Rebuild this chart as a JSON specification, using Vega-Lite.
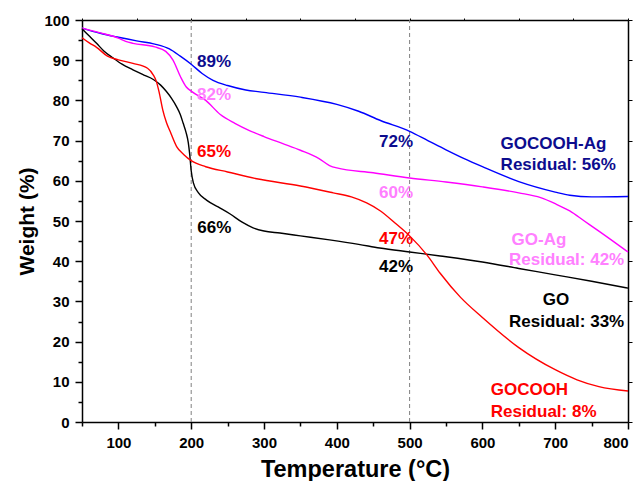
{
  "$schema": "https://vega.github.io/schema/vega-lite/v6.json",
  "width": 546,
  "height": 402,
  "autosize": {"type": "none"},
  "padding": {"left": 82, "top": 20, "right": 13, "bottom": 59},
  "config": {
    "font": "Liberation Sans",
    "view": {"stroke": null},
    "axis": {
      "grid": false,
      "domainColor": "#000000",
      "domainWidth": 1.5,
      "tickColor": "#000000",
      "tickWidth": 1.5,
      "labelFont": "Liberation Sans",
      "labelFontWeight": "bold",
      "labelFontSize": 15,
      "labelColor": "#000000",
      "titleFont": "Liberation Sans",
      "titleFontWeight": "bold",
      "titleColor": "#000000"
    }
  },
  "datasets": {
    "curves": [
      {"T": 50, "W": 98.0, "s": "GOCOOH-Ag"}, {"T": 75, "W": 96.7, "s": "GOCOOH-Ag"}, {"T": 100, "W": 95.7, "s": "GOCOOH-Ag"}, {"T": 125, "W": 94.8, "s": "GOCOOH-Ag"}, {"T": 150, "W": 94.0, "s": "GOCOOH-Ag"}, {"T": 170, "W": 92.8, "s": "GOCOOH-Ag"}, {"T": 185, "W": 91.0, "s": "GOCOOH-Ag"}, {"T": 200, "W": 89.0, "s": "GOCOOH-Ag"}, {"T": 215, "W": 86.7, "s": "GOCOOH-Ag"}, {"T": 230, "W": 85.0, "s": "GOCOOH-Ag"}, {"T": 250, "W": 83.7, "s": "GOCOOH-Ag"}, {"T": 275, "W": 82.6, "s": "GOCOOH-Ag"}, {"T": 300, "W": 82.0, "s": "GOCOOH-Ag"}, {"T": 350, "W": 80.8, "s": "GOCOOH-Ag"}, {"T": 400, "W": 79.0, "s": "GOCOOH-Ag"}, {"T": 430, "W": 77.3, "s": "GOCOOH-Ag"}, {"T": 460, "W": 75.0, "s": "GOCOOH-Ag"}, {"T": 500, "W": 72.3, "s": "GOCOOH-Ag"}, {"T": 525, "W": 70.0, "s": "GOCOOH-Ag"}, {"T": 550, "W": 67.7, "s": "GOCOOH-Ag"}, {"T": 575, "W": 65.5, "s": "GOCOOH-Ag"}, {"T": 600, "W": 63.5, "s": "GOCOOH-Ag"}, {"T": 650, "W": 59.8, "s": "GOCOOH-Ag"}, {"T": 700, "W": 57.2, "s": "GOCOOH-Ag"}, {"T": 720, "W": 56.4, "s": "GOCOOH-Ag"}, {"T": 750, "W": 56.0, "s": "GOCOOH-Ag"}, {"T": 800, "W": 56.1, "s": "GOCOOH-Ag"},

      {"T": 50, "W": 98.0, "s": "GO-Ag"}, {"T": 75, "W": 96.8, "s": "GO-Ag"}, {"T": 100, "W": 95.5, "s": "GO-Ag"}, {"T": 110, "W": 94.7, "s": "GO-Ag"}, {"T": 120, "W": 94.2, "s": "GO-Ag"}, {"T": 150, "W": 93.3, "s": "GO-Ag"}, {"T": 165, "W": 92.2, "s": "GO-Ag"}, {"T": 175, "W": 90.0, "s": "GO-Ag"}, {"T": 185, "W": 86.0, "s": "GO-Ag"}, {"T": 193, "W": 83.4, "s": "GO-Ag"}, {"T": 200, "W": 82.3, "s": "GO-Ag"}, {"T": 220, "W": 80.0, "s": "GO-Ag"}, {"T": 240, "W": 76.5, "s": "GO-Ag"}, {"T": 260, "W": 74.3, "s": "GO-Ag"}, {"T": 280, "W": 72.5, "s": "GO-Ag"}, {"T": 300, "W": 71.0, "s": "GO-Ag"}, {"T": 325, "W": 69.3, "s": "GO-Ag"}, {"T": 350, "W": 67.6, "s": "GO-Ag"}, {"T": 375, "W": 65.6, "s": "GO-Ag"}, {"T": 390, "W": 63.8, "s": "GO-Ag"}, {"T": 400, "W": 63.2, "s": "GO-Ag"}, {"T": 450, "W": 62.0, "s": "GO-Ag"}, {"T": 500, "W": 60.7, "s": "GO-Ag"}, {"T": 550, "W": 59.7, "s": "GO-Ag"}, {"T": 600, "W": 58.5, "s": "GO-Ag"}, {"T": 650, "W": 57.0, "s": "GO-Ag"}, {"T": 680, "W": 55.8, "s": "GO-Ag"}, {"T": 700, "W": 54.3, "s": "GO-Ag"}, {"T": 720, "W": 52.5, "s": "GO-Ag"}, {"T": 740, "W": 50.0, "s": "GO-Ag"}, {"T": 760, "W": 47.5, "s": "GO-Ag"}, {"T": 800, "W": 42.3, "s": "GO-Ag"},

      {"T": 50, "W": 97.8, "s": "GO"}, {"T": 60, "W": 96.0, "s": "GO"}, {"T": 70, "W": 94.2, "s": "GO"}, {"T": 80, "W": 92.3, "s": "GO"}, {"T": 93, "W": 90.5, "s": "GO"}, {"T": 105, "W": 89.0, "s": "GO"}, {"T": 120, "W": 87.6, "s": "GO"}, {"T": 135, "W": 86.3, "s": "GO"}, {"T": 148, "W": 85.2, "s": "GO"}, {"T": 158, "W": 83.8, "s": "GO"}, {"T": 166, "W": 82.2, "s": "GO"}, {"T": 173, "W": 80.5, "s": "GO"}, {"T": 180, "W": 78.4, "s": "GO"}, {"T": 185, "W": 76.5, "s": "GO"}, {"T": 189, "W": 74.3, "s": "GO"}, {"T": 193, "W": 72.0, "s": "GO"}, {"T": 196, "W": 69.5, "s": "GO"}, {"T": 198, "W": 66.5, "s": "GO"}, {"T": 200, "W": 62.5, "s": "GO"}, {"T": 203, "W": 59.5, "s": "GO"}, {"T": 210, "W": 57.0, "s": "GO"}, {"T": 221, "W": 55.2, "s": "GO"}, {"T": 237, "W": 53.5, "s": "GO"}, {"T": 253, "W": 51.8, "s": "GO"}, {"T": 270, "W": 49.7, "s": "GO"}, {"T": 285, "W": 48.3, "s": "GO"}, {"T": 300, "W": 47.5, "s": "GO"}, {"T": 322, "W": 47.0, "s": "GO"}, {"T": 350, "W": 46.3, "s": "GO"}, {"T": 390, "W": 45.3, "s": "GO"}, {"T": 430, "W": 44.2, "s": "GO"}, {"T": 459, "W": 43.3, "s": "GO"}, {"T": 500, "W": 42.3, "s": "GO"}, {"T": 542, "W": 41.3, "s": "GO"}, {"T": 600, "W": 39.8, "s": "GO"}, {"T": 650, "W": 38.2, "s": "GO"}, {"T": 700, "W": 36.6, "s": "GO"}, {"T": 750, "W": 35.0, "s": "GO"}, {"T": 800, "W": 33.3, "s": "GO"},

      {"T": 50, "W": 95.6, "s": "GOCOOH"}, {"T": 60, "W": 94.3, "s": "GOCOOH"}, {"T": 70, "W": 93.2, "s": "GOCOOH"}, {"T": 85, "W": 91.0, "s": "GOCOOH"}, {"T": 100, "W": 90.1, "s": "GOCOOH"}, {"T": 120, "W": 89.2, "s": "GOCOOH"}, {"T": 140, "W": 88.0, "s": "GOCOOH"}, {"T": 148, "W": 86.3, "s": "GOCOOH"}, {"T": 152, "W": 84.8, "s": "GOCOOH"}, {"T": 156, "W": 82.0, "s": "GOCOOH"}, {"T": 161, "W": 77.6, "s": "GOCOOH"}, {"T": 166, "W": 74.5, "s": "GOCOOH"}, {"T": 171, "W": 72.3, "s": "GOCOOH"}, {"T": 180, "W": 68.5, "s": "GOCOOH"}, {"T": 190, "W": 66.5, "s": "GOCOOH"}, {"T": 200, "W": 65.0, "s": "GOCOOH"}, {"T": 220, "W": 63.5, "s": "GOCOOH"}, {"T": 250, "W": 62.2, "s": "GOCOOH"}, {"T": 290, "W": 60.5, "s": "GOCOOH"}, {"T": 350, "W": 58.7, "s": "GOCOOH"}, {"T": 395, "W": 57.0, "s": "GOCOOH"}, {"T": 420, "W": 56.0, "s": "GOCOOH"}, {"T": 441, "W": 54.5, "s": "GOCOOH"}, {"T": 460, "W": 52.5, "s": "GOCOOH"}, {"T": 480, "W": 49.5, "s": "GOCOOH"}, {"T": 500, "W": 46.3, "s": "GOCOOH"}, {"T": 524, "W": 41.5, "s": "GOCOOH"}, {"T": 542, "W": 37.0, "s": "GOCOOH"}, {"T": 570, "W": 31.0, "s": "GOCOOH"}, {"T": 600, "W": 26.0, "s": "GOCOOH"}, {"T": 650, "W": 18.5, "s": "GOCOOH"}, {"T": 700, "W": 13.0, "s": "GOCOOH"}, {"T": 730, "W": 10.5, "s": "GOCOOH"}, {"T": 760, "W": 8.8, "s": "GOCOOH"}, {"T": 800, "W": 7.7, "s": "GOCOOH"}
    ],
    "marks": [{"T": 200}, {"T": 500}],
    "labels": [
      {"T": 208, "W": 89.6, "label": "89%", "s": "GOCOOH-Ag"},
      {"T": 208, "W": 81.3, "label": "82%", "s": "GO-Ag"},
      {"T": 208, "W": 67.2, "label": "65%", "s": "GOCOOH"},
      {"T": 208.4, "W": 48.3, "label": "66%", "s": "GO"},
      {"T": 458, "W": 69.7, "label": "72%", "s": "GOCOOH-Ag"},
      {"T": 458, "W": 56.9, "label": "60%", "s": "GO-Ag"},
      {"T": 458, "W": 45.4, "label": "47%", "s": "GOCOOH"},
      {"T": 458, "W": 38.5, "label": "42%", "s": "GO"},
      {"T": 625, "W": 69.2, "label": "GOCOOH-Ag", "s": "GOCOOH-Ag"},
      {"T": 625, "W": 63.9, "label": "Residual: 56%", "s": "GOCOOH-Ag"},
      {"T": 640, "W": 45.3, "label": "GO-Ag", "s": "GO-Ag"},
      {"T": 636.5, "W": 40.3, "label": "Residual: 42%", "s": "GO-Ag"},
      {"T": 683, "W": 30.3, "label": "GO", "s": "GO"},
      {"T": 636.5, "W": 24.9, "label": "Residual: 33%", "s": "GO"},
      {"T": 611.4, "W": 8.0, "label": "GOCOOH", "s": "GOCOOH"},
      {"T": 611.4, "W": 2.6, "label": "Residual: 8%", "s": "GOCOOH"}
    ]
  },
  "resolve": {
    "scale": {"color": "independent"},
    "axis": {"x": "independent", "y": "independent"}
  },
  "layer": [
    {
      "data": {"name": "marks"},
      "mark": {"type": "rule", "color": "#808080", "strokeWidth": 1, "strokeDash": [4, 3]},
      "encoding": {
        "x": {
          "field": "T", "type": "quantitative",
          "scale": {"domain": [50, 800], "nice": false, "zero": false},
          "axis": {"orient": "bottom", "values": [50, 150, 250, 350, 450, 550, 650, 750], "labels": false, "domain": false, "tickSize": 4, "title": null}
        },
        "y": {
          "datum": 0, "type": "quantitative",
          "scale": {"domain": [0, 100], "nice": false},
          "axis": {"orient": "left", "values": [5, 15, 25, 35, 45, 55, 65, 75, 85, 95], "labels": false, "domain": false, "tickSize": 4, "title": null}
        },
        "y2": {"datum": 100}
      }
    },
    {
      "data": {"name": "curves"},
      "mark": {"type": "line", "strokeWidth": 1.4, "interpolate": "monotone"},
      "encoding": {
        "x": {
          "field": "T", "type": "quantitative",
          "scale": {"domain": [50, 800], "nice": false, "zero": false},
          "axis": {"orient": "bottom", "values": [100, 200, 300, 400, 500, 600, 700, 800], "tickSize": 7, "labelPadding": 6, "title": "Temperature (°C)", "titleFontSize": 23.5, "titlePadding": 7}
        },
        "y": {
          "field": "W", "type": "quantitative",
          "scale": {"domain": [0, 100], "nice": false},
          "axis": {"orient": "left", "values": [0, 10, 20, 30, 40, 50, 60, 70, 80, 90, 100], "tickSize": 7, "labelPadding": 6, "title": "Weight (%)", "titleFontSize": 21, "titlePadding": 6}
        },
        "color": {
          "field": "s", "type": "nominal",
          "scale": {"domain": ["GOCOOH-Ag", "GO-Ag", "GO", "GOCOOH"], "range": ["#0000ff", "#ff00ff", "#000000", "#ff0000"]},
          "legend": null
        },
        "detail": {"field": "s"}
      }
    },
    {
      "data": {"name": "labels"},
      "mark": {"type": "text", "align": "left", "baseline": "middle", "fontSize": 17, "fontWeight": "bold", "font": "Liberation Sans"},
      "encoding": {
        "x": {
          "field": "T", "type": "quantitative",
          "scale": {"domain": [50, 800], "nice": false, "zero": false},
          "axis": {"orient": "top", "values": [50, 125, 200, 275, 350, 425, 500, 575, 650, 725, 800], "labels": false, "tickSize": 2, "tickWidth": 1, "title": null}
        },
        "y": {
          "field": "W", "type": "quantitative",
          "scale": {"domain": [0, 100], "nice": false},
          "axis": {"orient": "right", "values": [0, 10, 20, 30, 40, 50, 60, 70, 80, 90, 100], "labels": false, "tickSize": 4, "tickWidth": 1, "title": null}
        },
        "text": {"field": "label"},
        "color": {
          "field": "s", "type": "nominal",
          "scale": {"domain": ["GOCOOH-Ag", "GO-Ag", "GO", "GOCOOH"], "range": ["#0c0c8e", "#ff80ff", "#000000", "#ff0000"]},
          "legend": null
        }
      }
    }
  ]
}
